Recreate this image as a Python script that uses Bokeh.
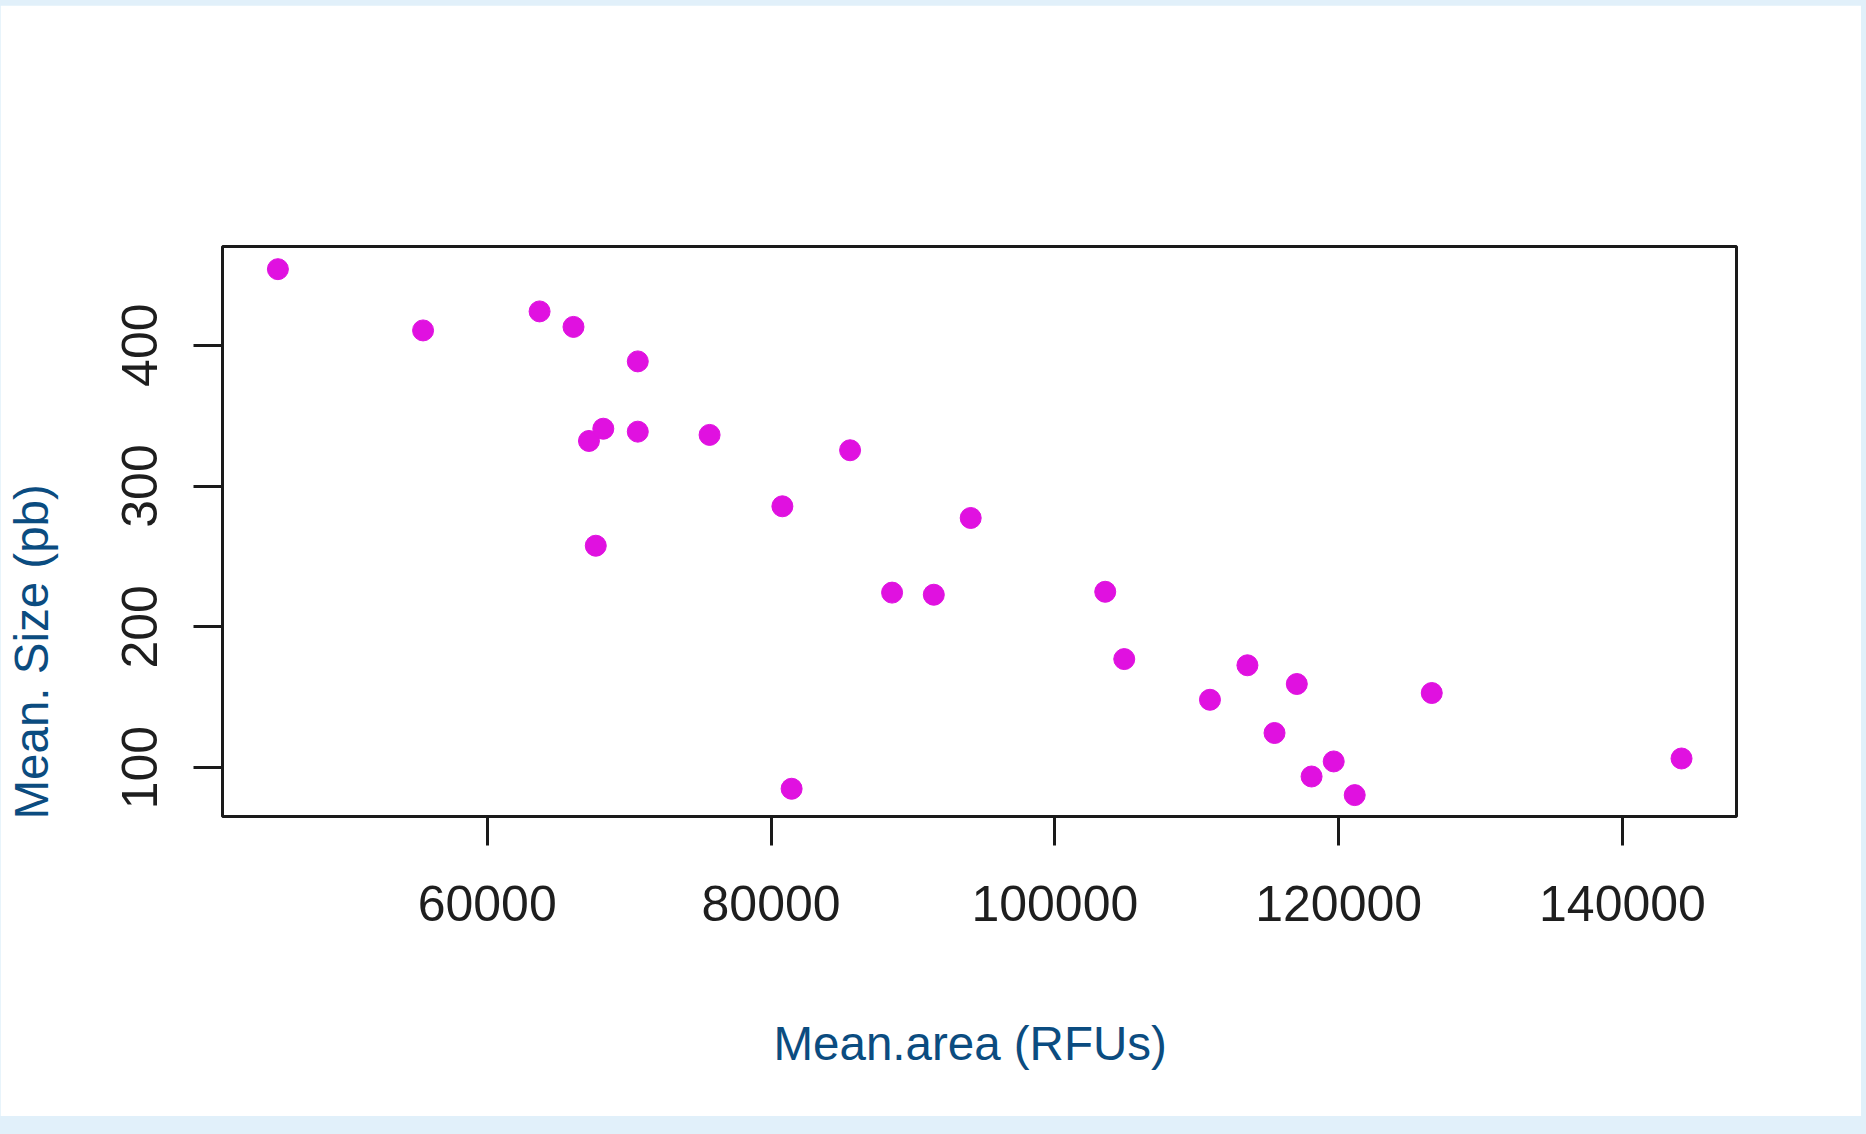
import math
from bokeh.plotting import figure
from bokeh.models import ColumnDataSource, FixedTicker, Range1d, Title
from bokeh.layouts import column
from bokeh.embed import file_html
from bokeh.resources import INLINE

# ---- data ----
mean_area = [45250, 55480, 63690, 66080, 70610, 67170, 68180, 70610, 75670,
             67650, 80800, 85570, 81450, 88530, 91470, 94070, 103550, 104890,
             110930, 113570, 117050, 115480, 118090, 119650, 121130, 126560,
             144160]
mean_size = [454, 410.5, 424, 413, 388.5, 332, 340.7, 338.6, 336.3,
             257.6, 285.6, 325.4, 85, 224.3, 222.8, 277.3, 224.9, 177.1,
             148.2, 172.7, 159.4, 124.6, 93.7, 104.4, 80.5, 153,
             106.5]
x_ticks = [60000, 80000, 100000, 120000, 140000]
y_ticks = [100, 200, 300, 400]
x_title = "Mean.area (RFUs)"
y_title = "Mean. Size (pb)"

FONT = "Liberation Sans"
TICK_COLOR = "#1e1e1e"
TITLE_COLOR = "#0b4c80"

src = ColumnDataSource(dict(x=mean_area, y=mean_size))

p = figure(
    frame_width=1514, frame_height=570,
    min_border_left=222, min_border_right=125,
    min_border_top=241, min_border_bottom=300,
    x_range=Range1d(41346, 148034), y_range=Range1d(65.3, 470.1),
    output_backend="svg", toolbar_location=None,
    background_fill_color="white", border_fill_color="white",
    outline_line_color="#1a1a1a", outline_line_width=3,
    margin=(5, 5, 18, 0),
)
p.grid.visible = False

p.scatter("x", "y", source=src, size=21, color="#e011e0", line_color="#e011e0")

for ax, ticks in ((p.xaxis[0], x_ticks), (p.yaxis[0], y_ticks)):
    ax.ticker = FixedTicker(ticks=ticks)
    ax.minor_tick_line_color = None
    ax.axis_line_color = None
    ax.major_tick_in = 0
    ax.major_tick_out = 29
    ax.major_tick_line_width = 3
    ax.major_tick_line_color = "#1a1a1a"
    ax.major_label_text_font = FONT
    ax.major_label_text_font_size = "50px"
    ax.major_label_text_color = TICK_COLOR
p.xaxis[0].major_label_standoff = 40
p.yaxis[0].major_label_standoff = 36
p.yaxis[0].major_label_orientation = "parallel"
p.xaxis[0].formatter.use_scientific = False
p.yaxis[0].formatter.use_scientific = False


def spacer(gap):
    # blank side-panel item that pushes the axis title further out
    return Title(text=" ", text_font_size="1px", standoff=gap,
                 text_color="white")


# axis titles as side-panel titles (offset along the axis from the frame start)
p.add_layout(spacer(58), "below")
p.add_layout(Title(text=x_title, align="left", offset=551, standoff=60,
                   text_font=FONT, text_font_size="47.5px",
                   text_font_style="normal", text_color=TITLE_COLOR), "below")
p.add_layout(spacer(57), "left")
p.add_layout(Title(text=y_title, align="left", offset=-3, standoff=3,
                   text_font=FONT, text_font_size="47.5px",
                   text_font_style="normal", text_color=TITLE_COLOR), "left")

layout = column(p, styles={"background-color": "#e1f0fa"})

open("out.html", "w").write(file_html(layout, INLINE))
